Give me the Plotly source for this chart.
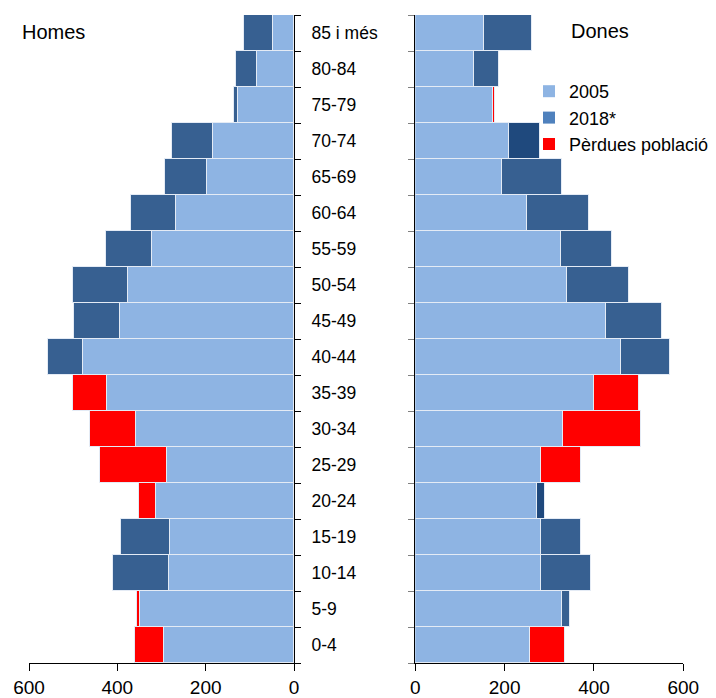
import plotly.graph_objects as go

# ---- data (bottom to top) ----
ages = ["0-4", "5-9", "10-14", "15-19", "20-24", "25-29", "30-34", "35-39", "40-44",
        "45-49", "50-54", "55-59", "60-64", "65-69", "70-74", "75-79", "80-84", "85 i més"]

homes_base = [294, 348, 284, 281, 312, 288, 357, 423, 478, 393, 376, 321, 268, 197, 183, 126, 84, 48]
homes_augment = [None, None, 125, 110, None, None, None, None, 78, 105, 124, 104, 102, 95, 93, 9, 47, 66]
homes_perdues = [65, 7, None, None, 40, 151, 105, 78, None, None, None, None, None, None, None, None, None, None]

dones_base = [258, 329, 282, 282, 273, 282, 332, 400, 462, 428, 341, 327, 250, 194, 210, 175, 133, 155]
dones_augment = [None, 19, 111, 90, 18, None, None, None, 109, 125, 139, 114, 139, 134, 70, None, 54, 106]
dones_perdues = [78, None, None, None, None, 90, 174, 101, None, None, None, None, None, None, None, 3, None, None]

x_ticks = [0, 200, 400, 600]
legend_names = ["2005", "2018*", "Pèrdues població"]

LIGHT = "#8EB4E3"
DARK = "#376091"
NAVY = "#1F497D"
RED = "#FF0000"
LEG_DARK = "#4F81BD"
BORDER = "#E4EBF5"
FONT = "Liberation Sans, Arial, sans-serif"

W, H = 716, 698

dones_dark_colors = [NAVY if a in ("20-24", "70-74") else DARK for a in ages]

fig = go.Figure()

def add_bars(xa, ya, vals, color):
    fig.add_trace(go.Bar(y=ages, x=vals, orientation="h", xaxis=xa, yaxis=ya,
                         marker=dict(color=color, line=dict(color=BORDER, width=1)),
                         showlegend=False, hoverinfo="skip"))

add_bars("x", "y", homes_base, LIGHT)
add_bars("x", "y", homes_augment, DARK)
add_bars("x", "y", homes_perdues, RED)
add_bars("x2", "y2", dones_base, LIGHT)
add_bars("x2", "y2", dones_augment, dones_dark_colors)
add_bars("x2", "y2", dones_perdues, RED)

for name, col in zip(legend_names, [LIGHT, LEG_DARK, RED]):
    fig.add_trace(go.Bar(y=[ages[0]], x=[None], orientation="h", xaxis="x2", yaxis="y2",
                         name=name, marker=dict(color=col, line=dict(width=0)), showlegend=True))

ydom = [(H - 663) / H, (H - 15) / H]
common_x = dict(showgrid=False, zeroline=False, showline=True, linecolor="black", linewidth=1,
                ticks="outside", ticklen=7, tickcolor="black", tickvals=x_ticks, automargin=False,
                tickfont=dict(size=19, color="black", family=FONT))
common_y = dict(type="category", categoryorder="array", categoryarray=ages,
                range=[-0.5, len(ages) - 0.5], showgrid=False, zeroline=False, automargin=False,
                showline=True, linecolor="black", linewidth=1, tickson="boundaries",
                ticks="outside", ticklen=6)

fig.update_layout(
    width=W, height=H,
    margin=dict(l=0, r=0, t=0, b=0, autoexpand=False),
    paper_bgcolor="white", plot_bgcolor="white",
    barmode="stack", bargap=0,
    font=dict(family=FONT, color="black"),
    xaxis=dict(domain=[29 / W, 294 / W], range=[600, 0], anchor="y", **common_x),
    xaxis2=dict(domain=[415.3 / W, 683.3 / W], range=[0, 600], anchor="y2", **common_x),
    yaxis=dict(domain=ydom, anchor="x", side="right", tickcolor="black",
               ticklabelstandoff=13,
               tickfont=dict(size=17.5, color="black", family=FONT), **common_y),
    yaxis2=dict(domain=ydom, anchor="x2", side="left", tickcolor="#808080",
                showticklabels=False, **common_y),
    legend=dict(x=529 / W, y=1 - 73 / H, xanchor="left", yanchor="top",
                traceorder="normal",
                font=dict(size=18, color="black", family=FONT),
                bgcolor="rgba(0,0,0,0)", tracegroupgap=0, itemclick=False),
    annotations=[
        dict(text="Homes", x=20 / W, y=1 - 32.5 / H, xref="paper", yref="paper",
             xanchor="left", yanchor="middle", showarrow=False,
             font=dict(size=20, color="black", family=FONT)),
        dict(text="Dones", x=569 / W, y=1 - 31 / H, xref="paper", yref="paper",
             xanchor="left", yanchor="middle", showarrow=False,
             font=dict(size=20, color="black", family=FONT)),
    ],
)

fig.write_html("out.html", config={"displayModeBar": False},
               post_script="document.body.style.margin='0';")
